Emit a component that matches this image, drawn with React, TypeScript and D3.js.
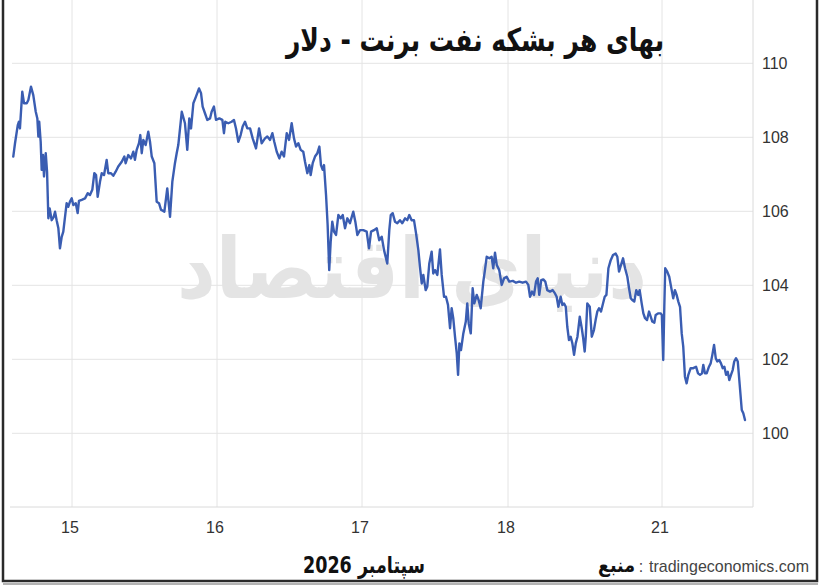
import React from 'react';
import * as d3 from 'd3';

const titleText = 'بهای هر بشکه نفت برنت - دلار';
const monthLabel = 'سپتامبر 2026';
const sourceLabel = 'منبع';
const sourceSite = 'tradingeconomics.com';
const watermark = 'دنیای اقتصاد';

const dayTicks = [0, 1, 2, 3, 4];
const dayLabels = ['15', '16', '17', '18', '21'];
const priceTicks = [100, 102, 104, 106, 108, 110];

// time in trading-day units (0 = 15 Sep, 4 = 21 Sep)
const timeDays = [
  -0.405, -0.393, -0.374, -0.366, -0.359, -0.343, -0.331, -0.312, -0.301, -0.283,
  -0.267, -0.25, -0.239, -0.232, -0.226, -0.216, -0.209, -0.2, -0.193, -0.181,
  -0.172, -0.163, -0.154, -0.14, -0.126, -0.117, -0.106, -0.094, -0.083, -0.071,
  -0.06, -0.037, -0.026, -0.014, -0.002, 0.009, 0.026, 0.039, 0.048, 0.067,
  0.09, 0.108, 0.124, 0.14, 0.154, 0.166, 0.177, 0.193, 0.205, 0.221,
  0.239, 0.25, 0.269, 0.285, 0.301, 0.319, 0.343, 0.361, 0.37, 0.388,
  0.407, 0.423, 0.434, 0.446, 0.462, 0.471, 0.481, 0.492, 0.508, 0.526,
  0.538, 0.55, 0.568, 0.584, 0.6, 0.614, 0.637, 0.657, 0.676, 0.692,
  0.71, 0.722, 0.733, 0.757, 0.779, 0.795, 0.809, 0.821, 0.837, 0.855,
  0.876, 0.89, 0.901, 0.917, 0.933, 0.952, 0.963, 0.979, 0.993, 1.016,
  1.037, 1.048, 1.057, 1.078, 1.101, 1.117, 1.131, 1.147, 1.163, 1.177,
  1.193, 1.209, 1.228, 1.246, 1.269, 1.29, 1.308, 1.331, 1.347, 1.366,
  1.382, 1.395, 1.412, 1.43, 1.446, 1.462, 1.481, 1.497, 1.515, 1.531,
  1.545, 1.561, 1.577, 1.595, 1.607, 1.623, 1.637, 1.646, 1.66, 1.676,
  1.692, 1.706, 1.717, 1.729, 1.738, 1.752, 1.763, 1.774, 1.784, 1.795,
  1.807, 1.821, 1.837, 1.853, 1.867, 1.883, 1.899, 1.917, 1.94, 1.954,
  1.968, 1.986, 2.009, 2.032, 2.048, 2.062, 2.082, 2.101, 2.118, 2.135,
  2.151, 2.173, 2.187, 2.197, 2.21, 2.226, 2.242, 2.26, 2.276, 2.295,
  2.31, 2.324, 2.34, 2.356, 2.37, 2.386, 2.397, 2.409, 2.42, 2.436,
  2.447, 2.461, 2.477, 2.488, 2.5, 2.516, 2.534, 2.546, 2.562, 2.575,
  2.589, 2.603, 2.614, 2.625, 2.637, 2.649, 2.658, 2.667, 2.678, 2.694,
  2.711, 2.721, 2.731, 2.745, 2.758, 2.769, 2.786, 2.799, 2.813, 2.831,
  2.842, 2.854, 2.872, 2.888, 2.899, 2.911, 2.923, 2.94, 2.957, 2.973,
  2.991, 3.008, 3.031, 3.052, 3.073, 3.095, 3.117, 3.132, 3.143, 3.156,
  3.169, 3.182, 3.193, 3.203, 3.216, 3.229, 3.242, 3.255, 3.273, 3.29,
  3.305, 3.316, 3.327, 3.342, 3.353, 3.364, 3.375, 3.385, 3.396, 3.407,
  3.418, 3.429, 3.44, 3.451, 3.466, 3.479, 3.487, 3.498, 3.505, 3.515,
  3.531, 3.544, 3.558, 3.569, 3.58, 3.591, 3.604, 3.617, 3.628, 3.639,
  3.652, 3.667, 3.682, 3.699, 3.71, 3.721, 3.734, 3.747, 3.76, 3.775,
  3.786, 3.797, 3.807, 3.82, 3.833, 3.846, 3.855, 3.868, 3.879, 3.89,
  3.903, 3.916, 3.927, 3.937, 3.95, 3.959, 3.974, 3.992, 3.999, 4.008,
  4.015, 4.021, 4.034, 4.047, 4.063, 4.073, 4.084, 4.095, 4.106, 4.117,
  4.128, 4.138, 4.149, 4.16, 4.171, 4.186, 4.203, 4.221, 4.234, 4.247,
  4.26, 4.268, 4.279, 4.29, 4.305, 4.316, 4.327, 4.338, 4.349, 4.359,
  4.372, 4.383, 4.394, 4.405, 4.416, 4.427, 4.437, 4.448, 4.459, 4.469,
  4.481, 4.492, 4.502, 4.518, 4.528, 4.539,
];

const brentPrice = [
  107.48, 107.84, 108.33, 108.42, 108.24, 109.23, 108.92, 108.92, 109.01, 109.37,
  109.14, 108.69, 108.51, 108.02, 108.42, 107.88, 107.12, 107.52, 106.94, 107.57,
  107.07, 105.81, 106.08, 105.76, 105.85, 105.99, 105.76, 105.54, 105.0, 105.31,
  105.45, 106.22, 106.12, 106.26, 106.35, 106.17, 106.22, 105.95, 106.28, 106.31,
  106.35, 106.49, 106.44, 106.58, 107.03, 106.98, 106.39, 106.8, 107.03, 106.98,
  107.39, 107.03, 107.03, 106.96, 107.07, 107.21, 107.34, 107.48, 107.3, 107.52,
  107.43, 107.61, 107.39, 107.66, 107.84, 108.06, 107.57, 107.93, 107.79, 108.15,
  107.88, 107.48, 107.3, 106.26, 106.22, 106.04, 105.99, 106.62, 105.85, 106.8,
  107.3, 107.57, 107.79, 108.69, 108.38, 107.66, 108.51, 108.24, 108.92, 109.1,
  109.32, 109.19, 108.83, 108.65, 108.47, 108.51, 108.69, 108.83, 108.47, 108.51,
  108.47, 108.11, 108.42, 108.38, 108.42, 108.47, 108.24, 107.88, 108.06, 108.29,
  108.42, 108.24, 108.24, 107.97, 107.7, 108.24, 107.84, 107.97, 108.02, 107.93,
  108.11, 107.88, 107.61, 107.43, 107.61, 107.48, 108.11, 107.93, 108.38, 107.97,
  107.75, 107.84, 107.66, 107.61, 107.34, 107.03, 107.25, 106.98, 107.3, 107.48,
  107.57, 107.75, 107.25, 107.12, 107.25, 106.44, 105.63, 104.41, 105.18, 105.72,
  105.45, 105.36, 105.9, 105.81, 105.9, 105.54, 105.81, 105.68, 105.99, 105.72,
  105.36, 105.49, 105.49, 105.45, 105.0, 105.45, 105.49, 105.54, 105.22, 105.31,
  104.95, 104.59, 105.49, 105.9, 105.95, 105.72, 105.68, 105.76, 105.68, 105.81,
  105.76, 105.9, 105.76, 105.76, 105.41, 104.95, 104.5, 104.05, 104.28, 103.87,
  103.96, 104.59, 104.91, 104.32, 104.41, 104.28, 104.97, 104.28, 103.69, 103.69,
  103.47, 102.84, 103.38, 103.11, 102.61, 102.16, 101.58, 102.43, 102.25, 102.7,
  103.02, 103.51, 102.97, 102.7, 103.92, 103.51, 103.74, 103.6, 103.38, 104.1,
  104.41, 104.77, 104.73, 104.77, 104.46, 104.88, 104.55, 104.41, 104.01, 104.19,
  104.23, 104.1, 104.12, 104.07, 104.1, 104.07, 104.1, 104.01, 103.69, 103.83,
  103.74, 104.1, 104.19, 103.74, 104.14, 104.16, 104.1, 103.87, 103.83, 103.87,
  103.78, 103.69, 103.42, 103.69, 103.47, 103.51, 103.42, 102.88, 102.52, 102.61,
  102.43, 102.12, 102.43, 102.61, 103.15, 102.84, 102.61, 102.21, 102.61, 103.51,
  103.42, 102.61, 102.79, 103.06, 103.29, 103.38, 103.29, 103.51, 103.69, 103.74,
  104.46, 104.68, 104.82, 104.86, 104.77, 104.37, 104.55, 104.73, 104.46, 104.23,
  103.92, 103.65, 103.6, 103.56, 103.87, 103.74, 103.87, 103.51, 103.24, 103.11,
  103.06, 103.29, 103.15, 103.02, 102.99, 103.2, 103.24, 103.24, 103.2, 101.98,
  103.42, 104.46, 104.37, 104.23, 103.87, 103.65, 103.87, 103.74, 103.56, 103.42,
  102.7, 102.34, 101.53, 101.35, 101.58, 101.76, 101.76, 101.8, 101.62, 101.58,
  101.62, 101.85, 101.62, 101.62, 101.8, 101.89, 102.12, 102.39, 102.03, 101.94,
  101.98, 101.89, 101.76, 101.8, 101.58, 101.66, 101.44, 101.58, 101.71, 101.94,
  102.03, 101.94, 101.44, 100.63, 100.54, 100.36,
];

export default function App() {
  const W = 821;
  const H = 585;
  const plotLeft = 12;
  const plotRight = 753;
  const plotBottom = 507;

  const x = d3.scaleLinear().domain(dayTicks).range([72, 217, 362, 508, 662]);
  const y = d3.scaleLinear().domain([100, 110]).range([433.3, 63.3]);

  const lineGen = d3
    .line<number>()
    .x((_, i) => x(timeDays[i]))
    .y((d) => y(d));
  const pathD = lineGen(brentPrice) || '';

  const axisFont = '"Liberation Sans", Arial, sans-serif';
  const faFont = '"DejaVu Sans", "Noto Sans", sans-serif';

  return (
    <div style={{ position: 'fixed', left: 0, top: 0, width: W, height: H, background: '#fff' }}>
      <svg width={W} height={H} viewBox={`0 0 ${W} ${H}`} style={{ display: 'block' }}>
        <rect x={0} y={0} width={W} height={H} fill="#ffffff" />

        {/* watermark */}
        <text
          x={412}
          y={298}
          textAnchor="middle"
          fontFamily={faFont}
          fontWeight="bold"
          fontSize={84}
          fill="#e4e4e4"
          textLength={470}
          lengthAdjust="spacingAndGlyphs"
        >
          {watermark}
        </text>

        {/* vertical grid */}
        {dayTicks.map((t) => (
          <line key={`vg${t}`} x1={x(t)} x2={x(t)} y1={0} y2={plotBottom} stroke="#e4e4e4" strokeWidth={1} />
        ))}
        {/* horizontal grid */}
        {priceTicks.map((p) => (
          <line key={`hg${p}`} x1={plotLeft} x2={plotRight} y1={y(p)} y2={y(p)} stroke="#e4e4e4" strokeWidth={1} />
        ))}
        {/* axis lines */}
        <line x1={plotRight} x2={plotRight} y1={0} y2={plotBottom} stroke="#dadada" strokeWidth={1} />
        <line x1={10} x2={plotRight} y1={plotBottom} y2={plotBottom} stroke="#dadada" strokeWidth={1} />

        {/* data line */}
        <path d={pathD} fill="none" stroke="#3a5db2" strokeWidth={2.4} strokeLinejoin="round" strokeLinecap="round" />

        {/* y tick labels */}
        {priceTicks.map((p) => (
          <text
            key={`yl${p}`}
            x={762}
            y={y(p)}
            dy="0.36em"
            fontFamily={axisFont}
            fontSize={16}
            fill="#333"
          >
            {p}
          </text>
        ))}
        {/* x tick labels */}
        {dayTicks.map((t, i) => (
          <text
            key={`xl${t}`}
            x={x(t) - 2}
            y={533}
            textAnchor="middle"
            fontFamily={axisFont}
            fontSize={16}
            fill="#333"
          >
            {dayLabels[i]}
          </text>
        ))}

        {/* title */}
        <text
          x={475}
          y={51}
          textAnchor="middle"
          fontFamily={faFont}
          fontWeight="bold"
          fontSize={32}
          fill="#111"
          textLength={378}
          lengthAdjust="spacingAndGlyphs"
        >
          {titleText}
        </text>

        {/* bottom labels */}
        <text
          x={364}
          y={573}
          textAnchor="middle"
          fontFamily={faFont}
          fontWeight="bold"
          fontSize={23}
          fill="#111"
          textLength={122}
          lengthAdjust="spacingAndGlyphs"
        >
          {monthLabel}
        </text>
        <text
          x={809}
          y={572}
          textAnchor="end"
          fontFamily={axisFont}
          fontSize={17}
          fill="#444"
          textLength={160}
          lengthAdjust="spacingAndGlyphs"
        >
          {sourceSite}
        </text>
        <text x={641} y={572} textAnchor="middle" fontFamily={axisFont} fontSize={16} fill="#444">
          :
        </text>
        <text
          x={635}
          y={572}
          textAnchor="end"
          fontFamily={faFont}
          fontWeight="bold"
          fontSize={20}
          fill="#111"
          textLength={37}
          lengthAdjust="spacingAndGlyphs"
        >
          {sourceLabel}
        </text>

        {/* frame */}
        <path d={`M3,0 V581 H817 V0`} fill="none" stroke="#2a2a2a" strokeWidth={2.5} />
        <line x1={3} x2={818} y1={584} y2={584} stroke="#9a9a9a" strokeWidth={1.5} />
      </svg>
    </div>
  );
}
